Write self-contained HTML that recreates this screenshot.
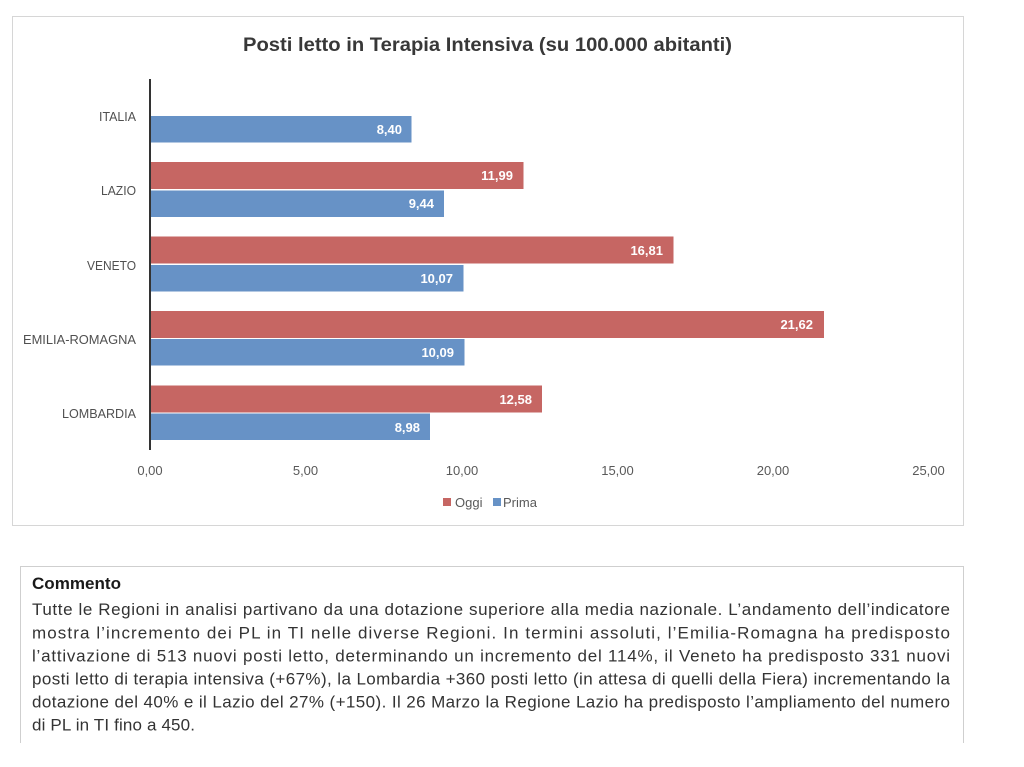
<!DOCTYPE html>
<html>
<head>
<meta charset="utf-8">
<style>
html,body{margin:0;padding:0;background:#fff;}
body{width:1024px;height:767px;overflow:hidden;}
svg{display:block;}
text{font-family:"Liberation Sans",Arial,sans-serif;}
</style>
</head>
<body>
<svg width="1024" height="767" viewBox="0 0 1024 767" xmlns="http://www.w3.org/2000/svg">
  <!-- chart frame -->
  <rect x="12.5" y="16.5" width="951" height="509" fill="#fff" stroke="#d6d6d6" stroke-width="1"/>
  <!-- title -->
  <text x="243" y="51" font-size="19" font-weight="bold" fill="#383838" textLength="489" lengthAdjust="spacingAndGlyphs">Posti letto in Terapia Intensiva (su 100.000 abitanti)</text>

  <!-- bars -->
  <rect x="151" y="116" width="260.5" height="26.5" fill="#6792c6"/>
  <rect x="151" y="162" width="372.5" height="27" fill="#c66663"/>
  <rect x="151" y="190.5" width="293" height="26.5" fill="#6792c6"/>
  <rect x="151" y="236.5" width="522.5" height="27" fill="#c66663"/>
  <rect x="151" y="265" width="312.5" height="26.5" fill="#6792c6"/>
  <rect x="151" y="311" width="673" height="27" fill="#c66663"/>
  <rect x="151" y="339" width="313.5" height="26.5" fill="#6792c6"/>
  <rect x="151" y="385.5" width="391" height="27" fill="#c66663"/>
  <rect x="151" y="413.5" width="279" height="26.5" fill="#6792c6"/>

  <!-- axis -->
  <line x1="150" y1="79" x2="150" y2="450" stroke="#333" stroke-width="2"/>

  <!-- data labels -->
  <g font-size="13" font-weight="bold" fill="#fff" text-anchor="end">
    <text x="402" y="134">8,40</text>
    <text x="513" y="180">11,99</text>
    <text x="434" y="208">9,44</text>
    <text x="663" y="255">16,81</text>
    <text x="453" y="283">10,07</text>
    <text x="813" y="329">21,62</text>
    <text x="454" y="357">10,09</text>
    <text x="532" y="404">12,58</text>
    <text x="420" y="432">8,98</text>
  </g>

  <!-- category labels -->
  <g font-size="13" fill="#505050" text-anchor="end">
    <text x="136" y="121" textLength="37" lengthAdjust="spacingAndGlyphs">ITALIA</text>
    <text x="136" y="195" textLength="35" lengthAdjust="spacingAndGlyphs">LAZIO</text>
    <text x="136" y="270" textLength="49" lengthAdjust="spacingAndGlyphs">VENETO</text>
    <text x="136" y="344" textLength="113" lengthAdjust="spacingAndGlyphs">EMILIA-ROMAGNA</text>
    <text x="136" y="418" textLength="74" lengthAdjust="spacingAndGlyphs">LOMBARDIA</text>
  </g>

  <!-- tick labels -->
  <g font-size="13" fill="#595959" text-anchor="middle">
    <text x="150" y="475">0,00</text>
    <text x="305.5" y="475">5,00</text>
    <text x="462" y="475">10,00</text>
    <text x="617.5" y="475">15,00</text>
    <text x="773" y="475">20,00</text>
    <text x="928.5" y="475">25,00</text>
  </g>

  <!-- legend -->
  <rect x="443" y="498" width="8" height="8" fill="#c66663"/>
  <text x="455" y="507" font-size="13" fill="#595959">Oggi</text>
  <rect x="493" y="498" width="8" height="8" fill="#6792c6"/>
  <text x="503" y="507" font-size="13" fill="#595959">Prima</text>

  <!-- comment box -->
  <path d="M20.5,743 V566.5 H963.5 V743" fill="none" stroke="#cfcfcf" stroke-width="1"/>
  <text x="32" y="589" font-size="17" font-weight="bold" fill="#1a1a1a" textLength="89" lengthAdjust="spacingAndGlyphs">Commento</text>
  <g font-size="17" fill="#333">
    <text x="32" y="615" textLength="918" lengthAdjust="spacing">Tutte le Regioni in analisi partivano da una dotazione superiore alla media nazionale. L’andamento dell’indicatore</text>
    <text x="32" y="638.5" textLength="918" lengthAdjust="spacing">mostra l’incremento dei PL in TI nelle diverse Regioni. In termini assoluti, l’Emilia-Romagna ha predisposto</text>
    <text x="32" y="661.5" textLength="918" lengthAdjust="spacing">l’attivazione di 513 nuovi posti letto, determinando un incremento del 114%, il Veneto ha predisposto 331 nuovi</text>
    <text x="32" y="684.5" textLength="918" lengthAdjust="spacing">posti letto di terapia intensiva (+67%), la Lombardia +360 posti letto (in attesa di quelli della Fiera) incrementando la</text>
    <text x="32" y="707.5" textLength="918" lengthAdjust="spacing">dotazione del 40% e il Lazio del 27% (+150). Il 26 Marzo la Regione Lazio ha predisposto l’ampliamento del numero</text>
    <text x="32" y="730.5" textLength="163" lengthAdjust="spacing">di PL in TI fino a 450.</text>
  </g>
</svg>
</body>
</html>
